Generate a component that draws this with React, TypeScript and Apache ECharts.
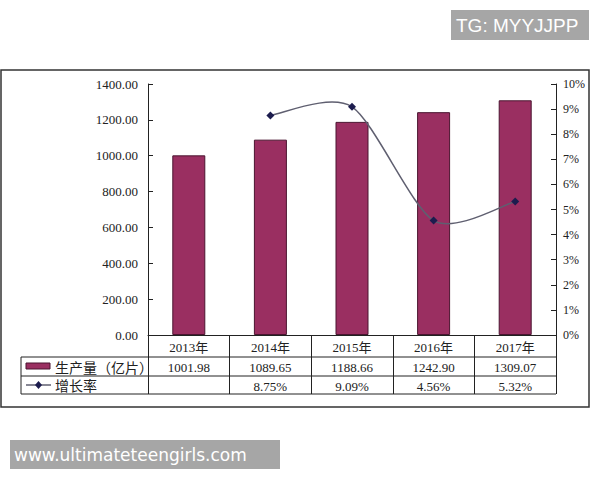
import React, { useEffect, useRef } from "react";
import * as echarts from "echarts";

const categories = ["2013年", "2014年", "2015年", "2016年", "2017年"];
const production = [1001.98, 1089.65, 1188.66, 1242.9, 1309.07];
const growth: (number | null)[] = [null, 8.75, 9.09, 4.56, 5.32];
const seriesNames = ["生产量（亿片）", "增长率"];
const watermarkTop = "TG: MYYJJPP";
const watermarkBottom = "www.ultimateteengirls.com";

const BAR = "#9a2f61";
const LINE = "#5f5f70";
const MARK = "#1c1c4e";
const SERIF = "'Liberation Serif', 'Noto Sans CJK SC', serif";
const CJK = "'Noto Sans CJK SC', sans-serif";

export default function App() {
  const ref = useRef<HTMLDivElement>(null);
  useEffect(() => {
    document.body.style.margin = "0";
    const chart = echarts.init(ref.current!, null, { renderer: "svg" });
    const gl = 148, gr = 556, gt = 84, gb = 335;
    const r1 = 357, r2 = 376, r3 = 394;
    const firstValid = growth.findIndex((g) => g != null);
    const T = 7.5;
    chart.setOption({
      animation: false,
      backgroundColor: "#ffffff",
      grid: { left: gl, right: 600 - gr, top: gt, bottom: 480 - gb },
      xAxis: {
        type: "category",
        data: categories,
        boundaryGap: true,
        axisLine: { lineStyle: { color: "#222", width: 1 } },
        axisTick: { show: true, interval: 0, length: r3 - gb, lineStyle: { color: "#222" } },
        axisLabel: {
          interval: 0,
          margin: 2,
          formatter: (v: string, i: number) => {
            const g = growth[i];
            return `{a|${v}}\n{b|${production[i].toFixed(2)}}\n{c|${g == null ? " " : g.toFixed(2) + "%"}}`;
          },
          rich: {
            a: { fontFamily: SERIF, fontSize: 13, color: "#222", lineHeight: 21, height: 21 },
            b: { fontFamily: SERIF, fontSize: 13, color: "#222", lineHeight: 19, height: 19 },
            c: { fontFamily: SERIF, fontSize: 13, color: "#222", lineHeight: 18, height: 18 },
          },
        },
      },
      yAxis: [
        {
          type: "value",
          min: 0,
          max: 1400,
          interval: 200,
          axisLine: { show: true, lineStyle: { color: "#222" } },
          axisTick: { show: true, inside: true, length: 5, lineStyle: { color: "#222" } },
          splitLine: { show: false },
          axisLabel: {
            fontFamily: SERIF,
            fontSize: 13,
            color: "#222",
            margin: 10,
            formatter: (v: number) => v.toFixed(2),
          },
        },
        {
          type: "value",
          min: 0,
          max: 10,
          interval: 1,
          axisLine: { show: true, lineStyle: { color: "#222" } },
          axisTick: { show: true, inside: true, length: 5, lineStyle: { color: "#222" } },
          splitLine: { show: false },
          axisLabel: {
            fontFamily: SERIF,
            fontSize: 12,
            color: "#222",
            margin: 7,
            formatter: "{value}%",
          },
        },
      ],
      series: [
        {
          name: seriesNames[0],
          type: "bar",
          data: production,
          barWidth: 33,
          itemStyle: { color: BAR, borderColor: "#4a1530", borderWidth: 1 },
        },
        {
          name: seriesNames[1] + "-curve",
          type: "custom",
          yAxisIndex: 1,
          data: [[firstValid, growth[firstValid]]],
          encode: { x: 0, y: 1 },
          z: 4,
          silent: true,
          renderItem: (params: any, api: any) => {
            const pts: number[][] = [];
            growth.forEach((g, i) => {
              if (g != null) pts.push(api.coord([i, g]));
            });
            const children: any[] = [];
            for (let k = 0; k < pts.length - 1; k++) {
              const p0 = pts[Math.max(0, k - 1)];
              const p1 = pts[k];
              const p2 = pts[k + 1];
              const p3 = pts[Math.min(pts.length - 1, k + 2)];
              children.push({
                type: "bezierCurve",
                shape: {
                  x1: p1[0],
                  y1: p1[1],
                  cpx1: p1[0] + (p2[0] - p0[0]) / T,
                  cpy1: p1[1] + (p2[1] - p0[1]) / T,
                  cpx2: p2[0] - (p3[0] - p1[0]) / T,
                  cpy2: p2[1] - (p3[1] - p1[1]) / T,
                  x2: p2[0],
                  y2: p2[1],
                },
                style: { stroke: LINE, lineWidth: 1.5, fill: null },
              });
            }
            return { type: "group", children };
          },
        },
        {
          name: seriesNames[1],
          type: "line",
          yAxisIndex: 1,
          data: growth,
          symbol: "diamond",
          symbolSize: 8,
          itemStyle: { color: MARK },
          lineStyle: { opacity: 0 },
          z: 5,
        },
      ],
      graphic: [
        {
          type: "rect",
          shape: { x: 1, y: 70, width: 588, height: 337 },
          style: { fill: "none", stroke: "#333", lineWidth: 1.5 },
          silent: true,
        },
        { type: "line", shape: { x1: 21, y1: r1, x2: gr, y2: r1 }, style: { stroke: "#222", lineWidth: 1 } },
        { type: "line", shape: { x1: 21, y1: r2, x2: gr, y2: r2 }, style: { stroke: "#222", lineWidth: 1 } },
        { type: "line", shape: { x1: 21, y1: r3, x2: gr, y2: r3 }, style: { stroke: "#222", lineWidth: 1 } },
        { type: "line", shape: { x1: 21, y1: r1, x2: 21, y2: r3 }, style: { stroke: "#222", lineWidth: 1 } },
        {
          type: "rect",
          shape: { x: 26, y: 363, width: 24, height: 6 },
          style: { fill: BAR, stroke: "#4a1530", lineWidth: 1 },
        },
        {
          type: "text",
          x: 55,
          y: (r1 + r2) / 2,
          style: { text: seriesNames[0], font: `14px ${CJK}`, fill: "#222", verticalAlign: "middle" },
        },
        { type: "line", shape: { x1: 26, y1: 385, x2: 51, y2: 385 }, style: { stroke: LINE, lineWidth: 1.5 } },
        {
          type: "polygon",
          shape: { points: [[38.5, 381], [42, 385], [38.5, 389], [35, 385]] },
          style: { fill: MARK },
        },
        {
          type: "text",
          x: 55,
          y: (r2 + r3) / 2,
          style: { text: seriesNames[1], font: `14px ${CJK}`, fill: "#222", verticalAlign: "middle" },
        },
        {
          type: "rect",
          shape: { x: 451, y: 10, width: 138, height: 30 },
          style: { fill: "#a6a6a6" },
        },
        {
          type: "text",
          x: 456,
          y: 25,
          style: { text: watermarkTop, font: "19px 'Liberation Sans', sans-serif", fill: "#fff", verticalAlign: "middle" },
        },
        {
          type: "rect",
          shape: { x: 10, y: 440, width: 270, height: 29 },
          style: { fill: "#a6a6a6" },
        },
        {
          type: "text",
          x: 14,
          y: 455,
          style: { text: watermarkBottom, font: "17px 'DejaVu Sans', sans-serif", fill: "#fff", verticalAlign: "middle" },
        },
      ],
    });
    return () => chart.dispose();
  }, []);
  return <div ref={ref} style={{ width: 600, height: 480 }} />;
}
